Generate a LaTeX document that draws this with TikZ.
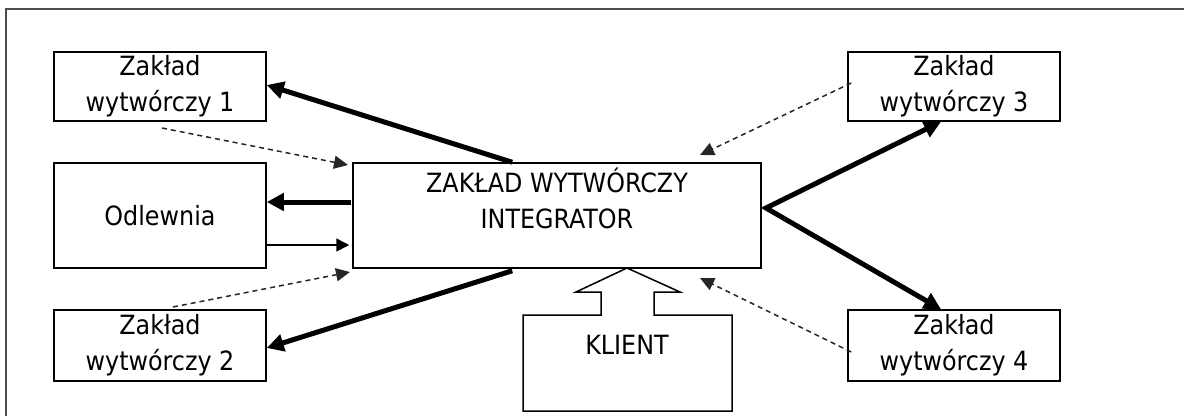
\documentclass[tikz,border=0pt]{standalone}
\usepackage{fontspec}
\setmainfont{DejaVu Sans Condensed}
\usetikzlibrary{arrows.meta,calc}
\begin{document}
\begin{tikzpicture}[x=1pt,y=-1pt,
  box/.style={draw=black,line width=1.5pt,rectangle,inner sep=0pt,align=center,
    font=\fontsize{26.5}{36}\selectfont},
  lbl/.style={inner sep=0pt,align=center,font=\fontsize{26.5}{36}\selectfont},
  thickarr/.style={line width=5pt,-{Triangle[length=17pt,width=17pt]}},
  thinarr/.style={line width=1.5pt,-{Triangle[length=13pt,width=13pt]}},
  dasharr/.style={line width=1.5pt,dash pattern=on 5pt off 4pt,draw=black!85,
    -{Triangle[length=14pt,width=13pt]}}]
\useasboundingbox (0,0) rectangle (1184,416);
\draw[line width=2pt,black!70] (6,416) -- (6,9) -- (1184,9);

% boxes
\node[box,minimum width=212pt,minimum height=69pt] (z1) at (160,86.5) {Zakład\\wytwórczy 1};
\node[box,minimum width=212pt,minimum height=105pt] (odl) at (160,215.5) {Odlewnia};
\node[box,minimum width=212pt,minimum height=71pt] (z2) at (160,345.5) {Zakład\\wytwórczy 2};
\node[box,minimum width=408pt,minimum height=105pt] (int) at (557,215.5) {};
\node[lbl] (intl) at (557,198) {ZAKŁAD WYTWÓRCZY\\INTEGRATOR};
\node[box,minimum width=212pt,minimum height=69pt] (z3) at (954,86.5) {Zakład\\wytwórczy 3};
\node[box,minimum width=212pt,minimum height=71pt] (z4) at (954,345.5) {Zakład\\wytwórczy 4};

% KLIENT shape with open arrow
\draw[line width=1.5pt] (601,315) -- (523,315) -- (523,411) -- (732,411) -- (732,315)
  -- (654,315) -- (654,292) -- (680,292) -- (627,268) -- (576,292) -- (601,292) -- cycle;
\node[lbl] (kl) at (627,345) {KLIENT};

% coordinates
\coordinate (v) at (766,208);
\coordinate (d1s) at (162,128);
\coordinate (d1e) at (348,165);
\coordinate (d2s) at (173,307);
\coordinate (d2e) at (350,272);
\coordinate (d3e) at (700,155);
\coordinate (d4e) at (700,278);
\coordinate (t3) at (351,202);
\coordinate (t4) at (266,245);

% connectors
\draw[thickarr] ([xshift=160pt]int.north west) -- ([yshift=1.5pt]z1.east);
\draw[thickarr] (t3) -- (odl.east |- t3);
\draw[thinarr] (t4) -- ([xshift=-3pt]int.west |- t4);
\draw[thickarr] ([xshift=160pt,yshift=-2pt]int.south west) -- ([yshift=-2.5pt]z2.east);
\draw[line width=5pt,line join=miter,{Triangle[length=17pt,width=17pt]}-{Triangle[length=17pt,width=17pt]}]
  ([xshift=-13pt]z3.south) -- (v) -- ([xshift=-13pt]z4.north);
\draw[dasharr] (d1s) -- (d1e);
\draw[dasharr] (d2s) -- (d2e);
\draw[dasharr] ([xshift=4pt,yshift=3.5pt]z3.west) -- (d3e);
\draw[dasharr] ([xshift=4pt,yshift=-6.5pt]z4.west) -- (d4e);
\end{tikzpicture}
\end{document}
